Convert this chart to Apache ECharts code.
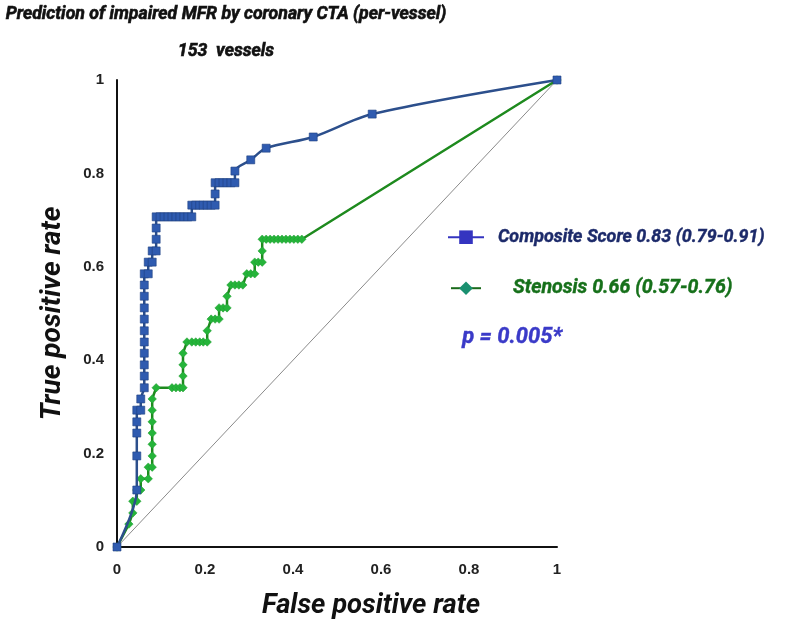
<!DOCTYPE html>
<html>
<head>
<meta charset="utf-8">
<script src="https://cdn.jsdelivr.net/npm/echarts@6/dist/echarts.min.js"></script>
<style>
html,body{margin:0;padding:0;background:#fff;}
#chart{width:800px;height:630px;}
</style>
</head>
<body>
<div id="chart"></div>
<script>
// ---- data ----
var titleText = 'Prediction of impaired MFR by coronary CTA (per-vessel)';
var subtitleText = '153  vessels';
var xAxisTitle = 'False positive rate';
var yAxisTitle = 'True positive rate';
var compositeName = 'Composite Score 0.83 (0.79-0.91)';
var stenosisName = 'Stenosis 0.66 (0.57-0.76)';
var pText = 'p = 0.005*';

// Composite score ROC (false positive rate, true positive rate)
var compositeFPR = [0, 0.045, 0.045, 0.045, 0.045, 0.045, 0.054, 0.054, 0.062, 0.062, 0.062, 0.062, 0.062, 0.062, 0.062, 0.062, 0.062, 0.062, 0.062,
  0.071, 0.071, 0.080, 0.080, 0.089, 0.089, 0.089, 0.089,
  0.098, 0.107, 0.116, 0.125, 0.134, 0.143, 0.152, 0.161, 0.170,
  0.170, 0.179, 0.188, 0.196, 0.205, 0.214, 0.223,
  0.223, 0.223, 0.232, 0.241, 0.250, 0.259, 0.268,
  0.268, 0.304, 0.339, 0.446, 0.580, 1];
var compositeTPR = [0, 0.122, 0.195, 0.244, 0.268, 0.293, 0.293, 0.317, 0.341, 0.366, 0.390, 0.415, 0.439, 0.463, 0.488, 0.512, 0.537, 0.561, 0.585,
  0.585, 0.610, 0.610, 0.634, 0.634, 0.659, 0.683, 0.707,
  0.707, 0.707, 0.707, 0.707, 0.707, 0.707, 0.707, 0.707, 0.707,
  0.732, 0.732, 0.732, 0.732, 0.732, 0.732, 0.732,
  0.756, 0.780, 0.780, 0.780, 0.780, 0.780, 0.780,
  0.805, 0.829, 0.854, 0.878, 0.927, 1];

// Stenosis ROC
var stenosisFPR = [0, 0.027, 0.036, 0.036, 0.045, 0.045, 0.054, 0.054, 0.071, 0.071, 0.080, 0.080, 0.080, 0.080, 0.080, 0.080, 0.080,
  0.089, 0.125, 0.134, 0.143, 0.150, 0.150, 0.150, 0.150,
  0.159, 0.170, 0.179, 0.188, 0.196, 0.205, 0.205,
  0.214, 0.223, 0.232, 0.232, 0.241, 0.250, 0.250,
  0.259, 0.268, 0.277, 0.286, 0.295, 0.304, 0.313, 0.313, 0.321, 0.330, 0.330, 0.330,
  0.339, 0.348, 0.357, 0.366, 0.375, 0.384, 0.393, 0.402, 0.411, 0.420, 1];
var stenosisTPR = [0, 0.049, 0.073, 0.098, 0.098, 0.122, 0.122, 0.146, 0.146, 0.171, 0.171, 0.195, 0.220, 0.244, 0.268, 0.293, 0.317,
  0.341, 0.341, 0.341, 0.341, 0.341, 0.366, 0.390, 0.415,
  0.439, 0.439, 0.439, 0.439, 0.439, 0.439, 0.463,
  0.488, 0.488, 0.488, 0.512, 0.512, 0.512, 0.537,
  0.561, 0.561, 0.561, 0.561, 0.585, 0.585, 0.585, 0.610, 0.610, 0.610, 0.634, 0.659,
  0.659, 0.659, 0.659, 0.659, 0.659, 0.659, 0.659, 0.659, 0.659, 0.659, 1];

// chance diagonal
var diagX = [0, 1];
var diagY = [0, 1];

function pairs(xs, ys) {
  var out = [];
  for (var i = 0; i < xs.length; i++) out.push([xs[i], ys[i]]);
  return out;
}

var FONT_N = 'Roboto, "DejaVu Sans Condensed", sans-serif';
var FONT_A = '"Liberation Sans", Arial, sans-serif';

// choose a font size so a text spans about the width it has in the reference
var measureCtx = document.createElement('canvas').getContext('2d');
function fitSize(text, targetWidth, maxSize) {
  measureCtx.font = 'italic bold 100px ' + FONT_N;
  var w = measureCtx.measureText(text).width;
  var s = Math.round(targetWidth / w * 1000) / 10;
  return Math.min(s, maxSize);
}
var titleSize = fitSize(titleText, 440, 22);
var compSize = fitSize(compositeName, 266, 21);
var stenSize = fitSize(stenosisName, 219, 21);
var pSize = fitSize(pText, 100, 24);
var xNameSize = fitSize(xAxisTitle, 218, 28);
var yNameSize = fitSize(yAxisTitle, 222, 28);

var chart = echarts.init(document.getElementById('chart'), null, {renderer: 'canvas'});
chart.setOption({
  animation: false,
  backgroundColor: '#ffffff',
  title: [
    {text: titleText, left: 226, top: 6, textAlign: 'center', padding: 0,
     textStyle: {fontFamily: FONT_N, fontSize: titleSize, fontWeight: 'bold', fontStyle: 'italic', color: '#111',
                 textBorderColor: '#111', textBorderWidth: 0.6}},
    {text: subtitleText, left: 226, top: 43, textAlign: 'center', padding: 0,
     textStyle: {fontFamily: FONT_N, fontSize: titleSize, fontWeight: 'bold', fontStyle: 'italic', color: '#111',
                 textBorderColor: '#111', textBorderWidth: 0.6}}
  ],
  grid: {left: 117, right: 243, top: 80, bottom: 83, containLabel: false},
  xAxis: {
    type: 'value', min: 0, max: 1, interval: 0.2,
    name: xAxisTitle, nameLocation: 'middle', nameGap: 46,
    nameTextStyle: {fontFamily: FONT_N, fontSize: xNameSize, fontWeight: 'bold', fontStyle: 'italic', color: '#111', padding: [0, 0, 0, 68]},
    axisLine: {show: true, lineStyle: {color: '#111', width: 2}},
    axisTick: {show: false},
    splitLine: {show: false},
    axisLabel: {fontFamily: FONT_A, fontSize: 15, fontWeight: 'bold', color: '#222', margin: 15}
  },
  yAxis: {
    type: 'value', min: 0, max: 1, interval: 0.2,
    name: yAxisTitle, nameLocation: 'middle', nameGap: 50,
    nameTextStyle: {fontFamily: FONT_N, fontSize: yNameSize, fontWeight: 'bold', fontStyle: 'italic', color: '#111'},
    axisLine: {show: true, lineStyle: {color: '#111', width: 2}},
    axisTick: {show: false},
    splitLine: {show: false},
    axisLabel: {fontFamily: FONT_A, fontSize: 15, fontWeight: 'bold', color: '#222', margin: 13}
  },
  legend: [
    {
      left: 447, top: 228, padding: 0, itemWidth: 36, itemHeight: 17,
      data: [{name: compositeName, itemStyle: {color: '#3434c0', borderWidth: 0}, lineStyle: {color: '#3434c0', width: 2}}],
      textStyle: {fontFamily: FONT_N, fontSize: compSize, fontWeight: 'bold', fontStyle: 'italic', color: '#1c2a6a',
                  textBorderColor: '#1c2a6a', textBorderWidth: 0.4, padding: [0, 0, 0, 9]}
    },
    {
      left: 450, top: 278, padding: 0, itemWidth: 30, itemHeight: 17,
      data: [{name: stenosisName, itemStyle: {color: '#1a9070', borderWidth: 0}, lineStyle: {color: '#1a6a1a', width: 2}}],
      textStyle: {fontFamily: FONT_N, fontSize: stenSize, fontWeight: 'bold', fontStyle: 'italic', color: '#16701a',
                  textBorderColor: '#16701a', textBorderWidth: 0.4, padding: [0, 0, 0, 27]}
    }
  ],
  graphic: [
    {type: 'text', left: 462, top: 326,
     style: {text: pText, fill: '#3a3ac8', stroke: '#3a3ac8', lineWidth: 0.4, font: 'italic bold ' + pSize + 'px ' + FONT_N}}
  ],
  series: [
    {
      name: 'diagonal', type: 'line', data: pairs(diagX, diagY), symbol: 'none', silent: true, z: 1,
      lineStyle: {color: '#8a8a8a', width: 1}
    },
    {
      name: stenosisName, type: 'line', data: pairs(stenosisFPR, stenosisTPR), z: 2,
      symbol: 'diamond', symbolSize: 8.5,
      lineStyle: {color: '#1e8a1e', width: 2.5},
      itemStyle: {color: '#25b43a', borderColor: '#1c9a2c', borderWidth: 0.5}
    },
    {
      name: compositeName, type: 'line', data: pairs(compositeFPR, compositeTPR), z: 3,
      symbol: 'rect', symbolSize: 8, smooth: 0.3,
      lineStyle: {color: '#2c4f8c', width: 2.5},
      itemStyle: {color: '#2f5bb0', borderColor: '#1f3f80', borderWidth: 0.6}
    }
  ]
});
</script>
</body>
</html>
